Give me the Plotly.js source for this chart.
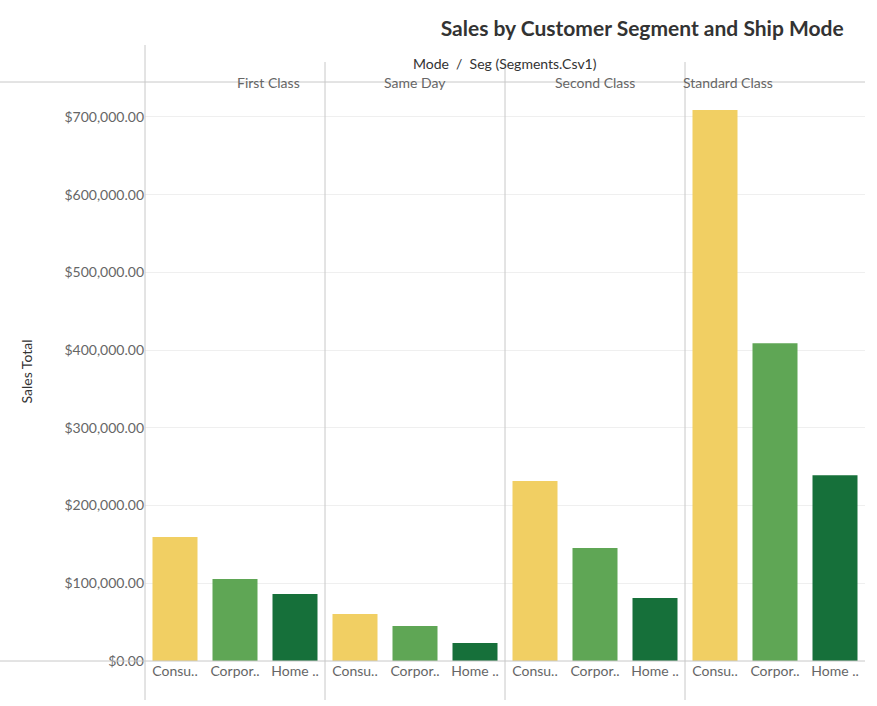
<!DOCTYPE html><html><head><script src="https://cdn.plot.ly/plotly-3.0.1.min.js"></script>
<style>body{margin:0}</style></head><body><div id="c" style="width:877px;height:706px"></div><script>
const modes=["First Class","Same Day","Second Class","Standard Class"];
const segments=["Consumer","Corporate","Home Office"];
const segLabels=["Consu..","Corpor..","Home .."];
const consumer=[159600,60500,231700,709000];
const corporate=[105500,45000,145400,409000];
const homeOffice=[86200,23200,81000,239000];
const colors=["#F1CF63","#5FA655","#16703A"];
const vals=[consumer,corporate,homeOffice];
const font="Lato, 'Open Sans', sans-serif";
const L=145,R=865,W=877,H=706,T=82,B=661;
const pw=(R-L)/4;
const traces=[],layout={width:W,height:H,margin:{l:L,r:W-R,t:T,b:H-B},showlegend:false,
 paper_bgcolor:"#fff",plot_bgcolor:"#fff",font:{family:font,color:"#666",size:14},
 title:{text:"<b>Sales by Customer Segment and Ship Mode</b>",x:0.962,xanchor:"right",y:0.97,font:{size:21,color:"#333",family:font}},
 shapes:[],annotations:[]};
modes.forEach((m,i)=>{
 const ax=i?"x"+(i+1):"x";
 traces.push({type:"bar",x:segments,y:segments.map((s,j)=>vals[j][i]),xaxis:ax,yaxis:"y",
  marker:{color:colors},width:0.75,hovertemplate:"%{y}<extra></extra>"});
 layout[i?"xaxis"+(i+1):"xaxis"]={domain:[i/4,(i+1)/4],anchor:"y",tickmode:"array",tickvals:segments,ticktext:segLabels,
  showgrid:false,zeroline:false,ticks:"",tickfont:{size:14,color:"#666"},fixedrange:true,range:[-0.5,2.5]};
 layout.annotations.push({text:m,xref:"paper",yref:"paper",x:(i+0.5)/4,y:1,yshift:10,showarrow:false,font:{size:14,color:"#666"}});
 const px=L+i*pw;
 layout.shapes.push({type:"line",xref:"paper",yref:"paper",x0:i/4,x1:i/4,y0:-(700-B)/(B-T),y1:1+(T-(i?62:45))/(B-T),line:{color:"#c8c8c8",width:1}});
});
layout.shapes.push({type:"line",xref:"paper",yref:"paper",x0:-L/(R-L),x1:1,y0:1,y1:1,line:{color:"#c8c8c8",width:1}});
layout.shapes.push({type:"line",xref:"paper",yref:"paper",x0:-L/(R-L),x1:1,y0:0,y1:0,line:{color:"#c8c8c8",width:1}});
layout.annotations.push({text:"Mode  /  Seg (Segments.Csv1)",xref:"paper",yref:"paper",x:0.5,y:1,yshift:29,showarrow:false,font:{size:14,color:"#333"}});
layout.yaxis={range:[0,745000],tickvals:[0,100000,200000,300000,400000,500000,600000,700000],
 tickformat:"$,.2f",gridcolor:"#efefef",zeroline:false,ticks:"",ticklen:0,tickfont:{size:14,color:"#666"},
 title:{text:"Sales Total",font:{size:14,color:"#333"},standoff:28},fixedrange:true};
Plotly.newPlot("c",traces,layout,{displayModeBar:false});
</script></body></html>
